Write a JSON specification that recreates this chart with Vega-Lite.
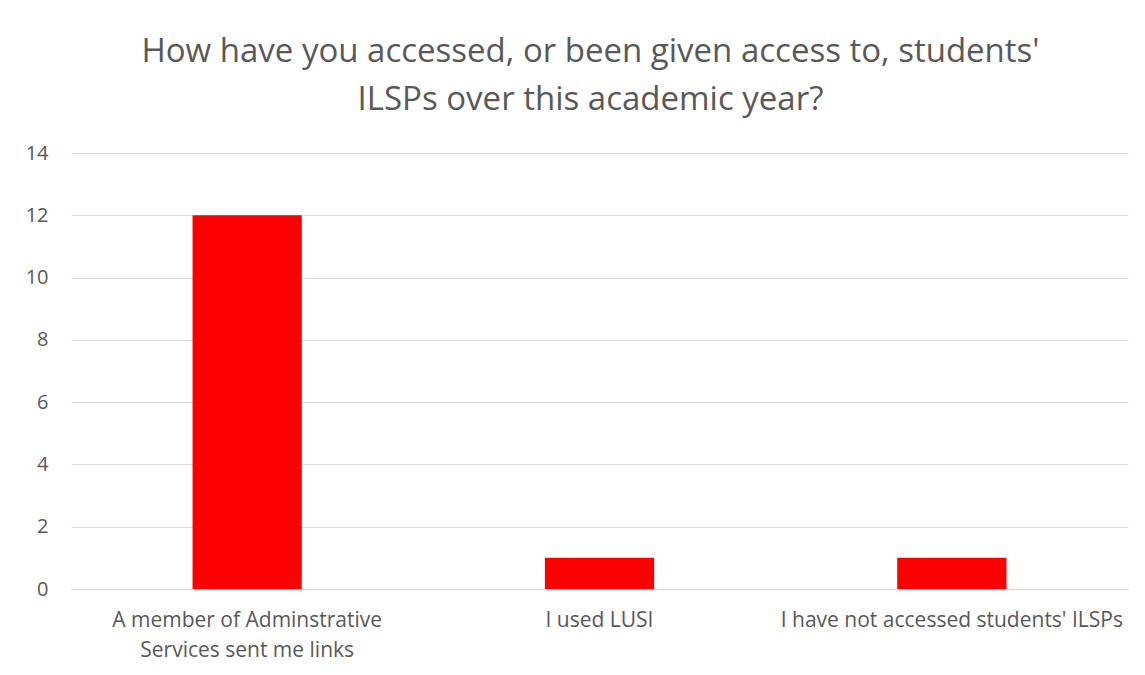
{
  "$schema": "https://vega.github.io/schema/vega-lite/v6.json",
  "width": 1057,
  "height": 436,
  "autosize": "none",
  "padding": {"left": 71, "top": 153, "right": 17, "bottom": 86},
  "background": "white",
  "title": {
    "text": ["How have you accessed, or been given access to, students'", "ILSPs over this academic year?"],
    "font": "Open Sans",
    "fontSize": 33,
    "fontWeight": "normal",
    "color": "#595959",
    "lineHeight": 48,
    "anchor": "middle",
    "dx": -9,
    "offset": 26
  },
  "data": {
    "values": [
      {"response": "A member of Adminstrative Services sent me links", "count": 12},
      {"response": "I used LUSI", "count": 1},
      {"response": "I have not accessed students' ILSPs", "count": 1}
    ]
  },
  "mark": {"type": "bar", "color": "#ff0000"},
  "encoding": {
    "x": {
      "field": "response",
      "type": "nominal",
      "sort": null,
      "scale": {"paddingInner": 0.69, "paddingOuter": 0.345},
      "axis": {
        "title": null,
        "labelAngle": 0,
        "labelFont": "Open Sans",
        "labelFontSize": 21,
        "labelColor": "#595959",
        "labelPadding": 20,
        "labelLineHeight": 30,
        "labelLimit": 400,
        "ticks": false,
        "domainColor": "#d9d9d9",
        "domainWidth": 1.5,
        "labelExpr": "datum.value == 'A member of Adminstrative Services sent me links' ? ['A member of Adminstrative', 'Services sent me links'] : datum.value"
      }
    },
    "y": {
      "field": "count",
      "type": "quantitative",
      "scale": {"domain": [0, 14]},
      "axis": {
        "title": null,
        "values": [0, 2, 4, 6, 8, 10, 12, 14],
        "domain": false,
        "ticks": false,
        "labelFont": "Open Sans",
        "labelFontSize": 20,
        "labelColor": "#595959",
        "labelPadding": 23,
        "gridColor": "#d9d9d9",
        "gridWidth": 1.2
      }
    }
  },
  "config": {"view": {"stroke": null}}
}
